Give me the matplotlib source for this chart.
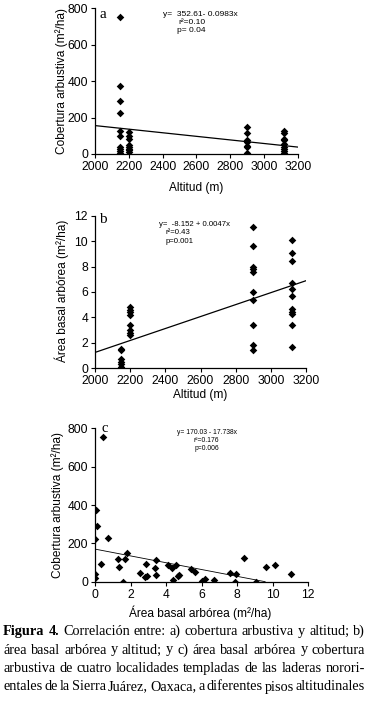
import matplotlib
matplotlib.use("Agg")
import matplotlib.pyplot as plt
import numpy as np

plt.rcParams['font.family'] = ['Liberation Sans', 'DejaVu Sans']

# --- datos ---
altitudes = [2150, 2200, 2900, 3120]

# a) cobertura arbustiva por localidad
cob_2150 = [750, 375, 290, 225, 125, 100, 40, 30, 15, 5]
cob_2200 = [120, 100, 80, 50, 40, 30, 20, 10]
cob_2900 = [150, 115, 75, 65, 45, 40, 5]
cob_3120 = [125, 115, 85, 75, 55, 40, 25, 15, 5]

# b) área basal arbórea por localidad
ab_2150 = [1.5, 1.4, 0.7, 0.5, 0.3, 0.1, 0.0]
ab_2200 = [4.8, 4.6, 4.4, 4.2, 3.4, 3.0, 2.8, 2.6]
ab_2900 = [11.1, 9.6, 8.0, 7.8, 7.6, 6.0, 5.4, 3.4, 1.8, 1.4]
ab_3120 = [10.1, 9.1, 8.4, 6.7, 6.2, 5.7, 4.7, 4.4, 4.3, 3.4, 1.7]

# c) área basal vs cobertura
area_basal = [0.43, 0.06, 0.09, 0.0, 0.73, 0.32, 0.0, 0.0, 1.31, 1.35, 1.71, 1.78,
              1.56, 2.53, 2.85, 2.83, 2.94, 3.38, 3.45, 3.45, 4.14, 4.33, 4.54,
              4.39, 4.73, 4.65, 5.42, 5.64, 6.04, 6.17, 6.71, 7.59, 7.89, 7.97,
              8.38, 9.05, 9.64, 10.14, 11.06]
cobertura = [753, 374, 290, 221, 226, 92, 38, 21, 120, 77, 117, 150,
             0, 45, 92, 26, 30, 71, 115, 35, 89, 71, 89,
             9, 37, 31, 64, 50, 3, 14, 9, 45, 0, 40,
             123, 0, 78, 85, 40]

W, H = 368, 706
fig = plt.figure(figsize=(W / 100, H / 100), dpi=100)


def box(l, r, t, b):
    return [l / W, 1 - b / H, (r - l) / W, (b - t) / H]


def estilo(ax):
    for s in ['top', 'right']:
        ax.spines[s].set_visible(False)
    for s in ['left', 'bottom']:
        ax.spines[s].set_linewidth(0.9)
    ax.tick_params(labelsize=8.7, length=3, width=0.8, direction='out', pad=2)
    ax.set_facecolor('white')


def etiqueta(x, y, s, rot=0):
    fig.text(x / W, 1 - y / H, s, fontsize=8.6, ha='center', va='center', rotation=rot)


def nota(x, y, s, size=6, ha='left'):
    fig.text(x / W, 1 - y / H, s, fontsize=size, ha=ha, va='center')


mk = dict(marker='D', s=15, color='black', linewidths=0, zorder=3)

# ---- panel a ----
ax1 = fig.add_axes(box(95, 297.7, 8.3, 154))
for alt, vals in zip(altitudes, [cob_2150, cob_2200, cob_2900, cob_3120]):
    ax1.scatter([alt] * len(vals), vals, **mk)
xs = np.array([2000, 3200])
ax1.plot(xs, 352.61 - 0.0983 * xs, color='black', lw=0.9)
ax1.set_xlim(2000, 3200)
ax1.set_ylim(0, 800)
ax1.set_xticks(range(2000, 3201, 200))
ax1.set_yticks(range(0, 801, 200))
estilo(ax1)
etiqueta(196, 187.5, 'Altitud (m)')
etiqueta(61.5, 81, 'Cobertura arbustiva (m²/ha)', 90)
fig.text(100 / W, 1 - 15 / H, 'a', family='Liberation Serif', fontsize=11, va='center')
nota(163, 14, 'y=  352.61- 0.0983x')
nota(178, 23, 'r²=0.10')
nota(177, 31, 'p= 0.04')

# ---- panel b ----
ax2 = fig.add_axes(box(95, 306, 215.7, 368.3))
for alt, vals in zip(altitudes, [ab_2150, ab_2200, ab_2900, ab_3120]):
    ax2.scatter([alt] * len(vals), vals, **mk)
ax2.plot(xs, -8.152 + 0.0047 * xs, color='black', lw=0.9)
ax2.set_xlim(2000, 3200)
ax2.set_ylim(0, 12)
ax2.set_xticks(range(2000, 3201, 200))
ax2.set_yticks(range(0, 13, 2))
estilo(ax2)
etiqueta(200, 395, 'Altitud (m)')
etiqueta(61.5, 291, 'Área basal arbórea (m²/ha)', 90)
fig.text(99 / W, 1 - 220 / H, 'b', family='Liberation Serif', fontsize=11, va='center')
nota(159, 225, 'y=  -8.152 + 0.0047x', 5.6)
nota(166, 233, 'r²=0.43', 5.6)
nota(166, 242, 'p=0.001', 5.6)

# ---- panel c ----
ax3 = fig.add_axes(box(95, 308, 428.3, 581.7))
ax3.scatter(area_basal, cobertura, **mk)
xc = np.array([0, 170.03 / 17.738])
ax3.plot(xc, 170.03 - 17.738 * xc, color='black', lw=0.6)
ax3.set_xlim(0, 12)
ax3.set_ylim(0, 800)
ax3.set_xticks(range(0, 13, 2))
ax3.set_yticks(range(0, 801, 200))
estilo(ax3)
etiqueta(200, 613, 'Área basal arbórea (m²/ha)')
etiqueta(58, 505, 'Cobertura arbustiva (m²/ha)', 90)
fig.text(101 / W, 1 - 429 / H, 'c', family='Liberation Serif', fontsize=10.5, va='center')
nota(207, 433, 'y= 170.03 - 17.738x', 4.9, 'center')
nota(206, 441, 'r²=0.176', 4.9, 'center')
nota(207, 449, 'p=0.006', 4.9, 'center')

# ---- pie de figura (justificado) ----
lineas = [
    [('Figura 4.', 'bold'), ('Correlación entre: a) cobertura arbustiva y altitud; b)', 'normal')],
    [('área basal arbórea y altitud;  y c) área basal arbórea y cobertura', 'normal')],
    [('arbustiva de cuatro localidades templadas de las laderas norori-', 'normal')],
    [('entales de la Sierra Juárez, Oaxaca, a diferentes pisos altitudinales', 'normal')],
]
ys = [631.5, 650, 668.5, 687]
x0, x1 = 3, 365
renderer = fig.canvas.get_renderer()
for partes, yp in zip(lineas, ys):
    palabras = []
    for txt, peso in partes:
        palabras += [(w, peso) for w in txt.split()]
    objs = [fig.text(0, 1 - yp / H, w, family='Liberation Serif', fontsize=10.3,
                     weight=p, va='center') for w, p in palabras]
    anchos = [o.get_window_extent(renderer).width for o in objs]
    hueco = (x1 - x0 - sum(anchos)) / (len(objs) - 1)
    x = x0
    for o, a in zip(objs, anchos):
        o.set_x(x / W)
        x += a + hueco

fig.savefig('out.png', dpi=100, facecolor='white')
